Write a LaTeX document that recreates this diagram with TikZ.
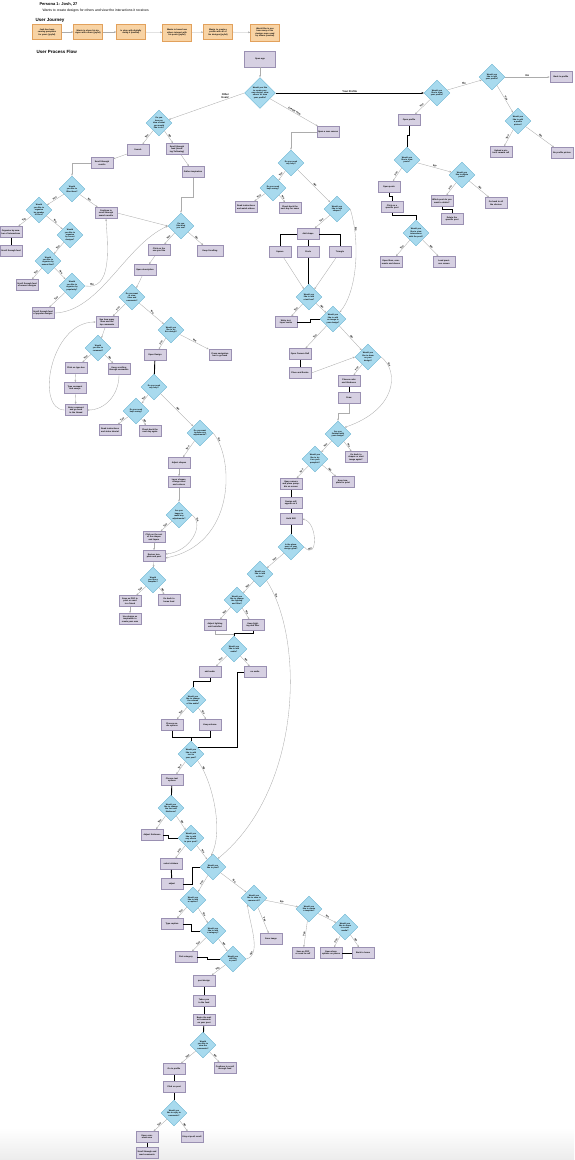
\documentclass[tikz,border=0pt]{standalone}
\usepackage{fontspec}
\setmainfont{Liberation Sans}
\usetikzlibrary{shapes.geometric,arrows.meta}
\definecolor{boxfill}{HTML}{D6D0E2}
\definecolor{boxline}{HTML}{9A90B2}
\definecolor{askfill}{HTML}{A8DAEE}
\definecolor{askline}{HTML}{6AB4D2}
\definecolor{tripfill}{HTML}{F8D3A4}
\definecolor{tripline}{HTML}{E2A15C}
\tikzset{
  wee/.style={font=\fontsize{2.1}{2.5}\selectfont\bfseries},
  act/.style={wee, draw=boxline, fill=boxfill, line width=0.6pt, minimum width=22pt, minimum height=11pt, text width=20pt, inner sep=0.4pt, align=center},
  ask/.style={font=\fontsize{2}{2.4}\selectfont\bfseries, diamond, draw=askline, fill=askfill, line width=0.4pt, minimum width=26pt, minimum height=26pt, text width=14pt, inner sep=0pt, align=center},
  trip/.style={wee, draw=tripline, fill=tripfill, line width=0.4pt, minimum width=29pt, minimum height=15pt, text width=26pt, inner sep=0.4pt, align=center},
  flow/.style={draw=gray!65, line width=0.35pt, -{Stealth[length=2.2pt,width=1.8pt]}},
  bond/.style={draw=black, line width=0.9pt},
  ans/.style={font=\fontsize{2.6}{3}\selectfont\bfseries, sloped, above, inner sep=0.4pt, pos=0.5},
}
\begin{document}
\begin{tikzpicture}[x=1pt,y=-1pt]
\useasboundingbox (0,0) rectangle (574,1160);
\fill[top color=white, bottom color=gray!15] (0,1128) rectangle (574,1160);

% header
\node[anchor=west, font=\fontsize{4}{5}\selectfont\bfseries] (persona) at (36,4) {Persona 1: Josh, 27};
\node[anchor=west, font=\fontsize{3.4}{4}\selectfont] (goal) at (39,11) {Wants to create designs for others and view the interactions it receives};
\node[anchor=west, font=\fontsize{4.5}{5}\selectfont\bfseries] (journey) at (32,20) {User Journey};
\node[anchor=west, font=\fontsize{4.5}{5}\selectfont\bfseries] (process) at (33,52) {User Process Flow};

% user journey
\node[trip] (j1) at (47,32) {Josh has been carving pumpkins for years (joyful)};
\node[trip] (j2) at (88,32) {Wants to share his designs with others (joyful)};
\node[trip] (j3) at (131,32) {Is okay with digitally doing it (neutral)};
\node[trip, minimum height=17pt] (j4) at (177,32.5) {Wants to know how others interact with his posts (joyful)};
\node[trip] (j5) at (218,32) {Wants to create a profile with all of his designs (joyful)};
\node[trip, minimum height=17pt] (j6) at (265,32.5) {Would like to see how many of his designs were used by others (neutral)};
\foreach \a/\b in {j1/j2,j2/j3,j3/j4,j4/j5,j5/j6}
  \draw[flow] (\a) -- (\b);

% start
\node[act, minimum width=31pt, minimum height=16pt] (open) at (260,59) {Open app};
\node[ask, minimum width=31pt, minimum height=31pt, text width=17pt] (start) at (260,93) {Would you like to create your own design, view others' or view your profile?};
\draw[flow] (open) -- (start);

% your profile
\node[ask] (viewprof) at (437,93) {Would you like to view your profile?};
\node[ask] (editprof) at (492,77) {Would you like to edit your profile?};
\node[act] (backprof) at (561,77) {Back to profile};
\node[ask] (editpic) at (518,121) {Would you like to edit a profile picture?};
\node[act] (upload) at (501,152) {Upload a picture/ camera roll};
\node[act] (nopic) at (562,153) {No profile picture};
\node[act] (openprof) at (409,120) {Open profile};
\node[ask] (viewposts) at (407,160) {Would you like to view posts?};
\node[act] (openposts) at (389,187) {Open posts};
\node[ask] (delposts) at (462,175) {Would you like to delete posts?};
\node[act] (whichpost) at (442,201) {Which post do you want to delete?};
\node[act] (goback) at (496,203) {Go back to all the choices};
\node[act] (delpost) at (452,219) {Delete the specific post};
\node[act] (clickpost) at (392,207) {Click on a specific post};
\node[ask] (interact) at (416,233) {Would you like to view interactions with the post?};
\node[act] (openlikes) at (391,262) {Open likes, comments and shares};
\node[act] (backpost) at (444,262) {Load previous screen};

\draw[bond, -{Stealth[length=2.4pt,width=2pt]}] (start.east) -- node[ans]{Your Profile} (viewprof.west);
\draw[flow] (viewprof) -- node[ans]{Yes} (openprof);
\draw[flow] (viewprof) -- node[ans]{No} (editprof);
\draw[flow] (editprof) -- node[ans]{No} (backprof);
\draw[flow] (editprof) -- node[ans]{Yes} (editpic);
\draw[flow] (editpic) -- node[ans]{Yes} (upload);
\draw[flow] (editpic) -- node[ans]{No} (nopic);
\draw[bond] (openprof.south) -- ++(0,10) -| (viewposts.north);
\draw[flow] (viewposts) -- node[ans]{Yes} (openposts);
\draw[flow] (viewposts) -- node[ans]{No} (delposts);
\draw[flow] (delposts) -- node[ans]{Yes} (whichpost);
\draw[flow] (delposts) -- node[ans]{No} (goback);
\draw[bond] (whichpost.south) -- ++(0,3) -| (delpost.north);
\draw[bond] (openposts.south) -- ++(0,4) -| (clickpost.north);
\draw[bond] (clickpost.south) -- ++(0,3) -| (interact.north);
\draw[flow] (interact) -- node[ans]{Yes} (openlikes);
\draw[flow] (interact) -- node[ans]{No} (backpost);

% other users
\node[ask] (idea) at (159,123) {Do you have an idea of what you would like to do?};
\node[act] (search) at (138,150) {Search};
\node[act] (scroll) at (177,149) {Scroll through feed (trending/ following)};
\node[act] (inspire) at (193,172) {Gather inspiration};
\node[act] (results) at (102,163) {Scroll through results};
\node[ask] (filter) at (72,189) {Would you like to filter them?};
\node[ask] (bylikes) at (39,210) {Would you like to organise by number of likes?};
\node[act] (keepsearch) at (106,213) {Continue to scroll through search results};
\node[act] (orglikes) at (11,232) {Organise by number of interactions};
\node[act] (feedlikes) at (11,251) {Scroll through feed};
\node[ask] (byrecent) at (70,235) {Would you like to organise by recent designs?};
\node[ask] (bynewest) at (48,261) {Would you like to organise by newest first?};
\node[act] (feednew) at (27,285) {Scroll through feed of newest designs};
\node[ask] (bypopular) at (72,286) {Would you like to organise by popularity?};
\node[act] (feedpop) at (43,313) {Scroll through feed of popular designs};
\node[ask] (looks) at (181,226) {Do you like what you see?};
\node[act] (clickone) at (159,250) {Click on the one you like};
\node[act, minimum width=26pt] (keepscroll) at (210,251) {Keep Scrolling};
\node[act] (opendesc) at (145,270) {Open description};
\node[ask] (viewlikes) at (132,297) {Do you want to view likes and comments?};
\node[act] (seelikes) at (107,322) {See how many likes and the top comments};
\node[ask] (comment) at (98,348) {Would you like to comment?};
\node[act] (typebox) at (76,368) {Click on type box};
\node[act] (keepcomm) at (119,369) {Keep scrolling through comments};
\node[act] (typecomm) at (75,388) {Type comment and emojis};
\node[act] (sendcomm) at (76,410) {Enter comment and go back to the thread};
\node[ask] (trydesign) at (171,330) {Would you like to try this design?};
\node[act] (opendesign) at (155,355) {Open Design};
\node[act] (navback) at (220,355) {Press navigation bar to go back};
\node[ask] (help2) at (154,387) {Do you need any help?};
\node[ask] (helpsave2) at (136,411) {Do you need help saving?};
\node[act] (tutorial2) at (110,430) {Read instructions and video tutorial};
\node[act] (checkback2) at (150,431) {Check back the next day again};
\node[ask] (adjust) at (200,433) {Do you want to make any adjustments?};
\node[act] (adjshapes) at (179,463) {Adjust shapes};
\node[act] (layer) at (179,482) {Layer shapes, change sizes and colours};
\node[ask] (happy) at (179,515) {Are you happy to make any adjustments?};
\node[act] (clickrest) at (154,537) {Click on the rest of the shapes and layers};
\node[act] (review) at (154,556) {Review template and post};
\node[ask] (template) at (153,580) {Would you like a template?};
\node[act] (savepdf) at (130,601) {Save as PDF to print or send to a friend};
\node[act] (homefeed) at (169,600) {Go back to home feed};
\node[act] (inspo) at (130,619) {Use design as inspiration to create your own};

\draw[flow] (start.west) -- node[pos=0.25, above=1pt, font=\fontsize{2.6}{3}\selectfont\bfseries, align=center, inner sep=0.4pt]{Other\\Users'} (idea);
\draw[flow] (idea) -- node[ans]{Yes} (search);
\draw[flow] (idea) -- node[ans]{No} (scroll);
\draw[flow] (scroll) -- (inspire);
\draw[flow] (search) -- (results);
\draw[flow] (results.west) -| (filter.north);
\draw[flow] (filter) -- node[ans]{Yes} (bylikes);
\draw[flow] (filter) -- node[ans]{No} (keepsearch);
\draw[flow] (bylikes) -- node[ans]{Yes} (orglikes);
\draw[flow] (bylikes) -- node[ans]{No} (byrecent);
\draw[bond] (orglikes) -- (feedlikes);
\draw[flow] (byrecent) -- node[ans]{Yes} (bynewest);
\draw[flow] (bynewest) -- node[ans]{Yes} (feednew);
\draw[flow] (bynewest) -- node[ans]{No} (bypopular);
\draw[flow] (bypopular) -- node[ans]{Yes} (feedpop);
\draw[flow] (bypopular.east) .. controls (112,290) and (108,250) .. node[ans, pos=0.1]{No} (keepsearch.south);
\draw[flow] (feedpop.east) .. controls (100,312) and (125,245) .. (looks.west);
\draw[flow] (keepsearch.east) -- (looks.west);
\draw[flow] (inspire.south) -- ++(0,19) -| (looks.north);
\draw[flow] (looks) -- node[ans]{Yes} (clickone);
\draw[flow] (looks) -- node[ans]{No} (keepscroll);
\draw[flow] (clickone) -- (opendesc);
\draw[flow] (opendesc) -- (viewlikes);
\draw[flow] (viewlikes) -- node[ans]{Yes} (seelikes);
\draw[flow] (viewlikes) -- node[ans]{No} (trydesign);
\draw[flow] (seelikes) -- (comment);
\draw[flow] (comment) -- node[ans]{Yes} (typebox);
\draw[flow] (comment) -- node[ans]{No} (keepcomm);
\draw[flow] (typebox) -- (typecomm);
\draw[flow] (typecomm) -- (sendcomm);
\draw[flow] (keepcomm.south) .. controls (119,395) and (105,410) .. (sendcomm.east);
\draw[flow] (sendcomm.west) .. controls (35,410) and (50,322) .. (seelikes.west);
\draw[flow] (trydesign) -- node[ans]{Yes} (opendesign);
\draw[flow] (trydesign) -- node[ans]{No} (navback);
\draw[bond] (opendesign) -- (help2);
\draw[flow] (help2) -- node[ans]{Yes} (helpsave2);
\draw[flow] (help2) -- node[ans]{No} (adjust);
\draw[flow] (helpsave2) -- node[ans]{Yes} (tutorial2);
\draw[flow] (helpsave2) -- node[ans]{No} (checkback2);
\draw[flow] (adjust) -- node[ans]{Yes} (adjshapes);
\draw[flow] (adjust.east) .. controls (235,460) and (235,545) .. node[ans, pos=0.08]{No} (review.-10);
\draw[flow] (adjshapes) -- (layer);
\draw[flow] (layer) -- (happy);
\draw[flow] (happy) -- node[ans]{Yes} (clickrest);
\draw[flow] (happy.east) .. controls (205,525) and (190,552) .. node[ans, pos=0.15]{No} (review.10);
\draw[flow] (clickrest) -- (review);
\draw[flow] (review) -- (template);
\draw[flow] (template) -- node[ans]{Yes} (savepdf);
\draw[flow] (template) -- node[ans]{No} (homefeed);
\draw[flow] (savepdf) -- (inspo);

% create new
\node[act] (canvas) at (328,132) {Open a new canvas};
\node[ask] (help) at (291,163) {Do you need any help?};
\node[ask] (helpsave) at (273,188) {Do you need help saving?};
\node[act] (tutorial) at (246,207) {Read instructions and watch videos};
\node[act] (checkback) at (290,208) {Check back the next day for news};
\node[ask] (addshape) at (337,209) {Would you like to add shapes?};
\node[act] (shape) at (308,234) {Add shape};
\node[act] (square) at (280,252) {Square};
\node[act] (circle) at (308,252) {Circle};
\node[act] (triangle) at (340,252) {Triangle};
\node[ask] (textbox) at (309,297) {Would you like to add a text box?};
\node[act] (writetext) at (286,322) {Write text, layer/ resize};
\node[ask] (addimage) at (333,319) {Would you like to add an image to your design?};
\node[act] (cameraroll) at (300,354) {Open Camera Roll};
\node[act] (resize) at (300,373) {Place and Resize};
\node[ask] (draw) at (368,357) {Would you like to draw on your design?};
\node[act] (colour) at (349,381) {Choose color and thickness};
\node[act] (drawit) at (349,398) {Draw};
\node[ask] (finished) at (338,434) {Are you finished with your design?};
\node[act] (startagain) at (356,457) {Go back to shapes or start image again?};
\node[ask] (trypump) at (315,459) {Would you like to try it on your pumpkin?};
\node[act] (camera) at (291,484) {Open camera and place pumpkin on screen};
\node[act] (savetpl) at (343,482) {Save template for print};
\node[act] (appear) at (291,503) {Design will appear on it};
\node[act] (hold) at (291,519) {Hold Still};
\node[ask] (placement) at (291,547) {Is the placement of your design good?};
\node[ask] (addfilter) at (260,574) {Would you like to add a filter?};
\node[ask] (lighting) at (237,600) {Would you like to change the lighting and filter?};
\node[act] (adjlight) at (215,625) {Adjust lighting until satisfied};
\node[act] (keeplight) at (253,625) {Keep lighting and filter};
\node[ask] (audio) at (234,649) {Would you like to add audio?};
\node[act] (addaudio) at (210,672) {add audio};
\node[act] (noaudio) at (255,672) {no audio};
\node[ask] (volume) at (193,700) {Would you like to change the volume of the audio?};
\node[act] (audioopts) at (172,725) {Choose audio options};
\node[act] (keepvol) at (210,725) {Keep volume};
\node[ask] (addtext) at (191,754) {Would you like to add text to your post?};
\node[act] (textopts) at (172,780) {Choose text options};
\node[ask] (font) at (171,808) {Would you like to change the font and thickness?};
\node[act] (thickness) at (152,835) {Adjust thickness};
\node[ask] (effects) at (191,838) {Would you like to add any effects to your post?};
\node[act] (stickers) at (171,864) {select stickers};
\node[act] (adjustst) at (172,884) {adjust};
\node[ask] (post) at (213,867) {Would you like to post?};
\node[ask] (caption) at (193,900) {Would you like to add a caption?};
\node[act] (typecap) at (172,924) {Type caption};
\node[ask] (category) at (213,931) {Would you like to add a category?};
\node[act] (pickcat) at (186,957) {Pick category};
\node[ask] (stillpost) at (233,959) {Would you still like to post?};
\node[act] (postdesign) at (204,981) {post design};
\node[ask] (savecam) at (254,898) {Would you like to save to camera roll?};
\node[act] (saveimg) at (271,939) {Save image};
\node[ask] (createtpl) at (309,909) {Would you like to create a template?};
\node[act] (sendself) at (303,953) {Save as PDF or send to self};
\node[ask] (share) at (345,927) {Would you like to share to social media?};
\node[act] (shareopts) at (331,953) {Open share options on phone};
\node[act] (backhome) at (363,953) {Back to home};
\node[act] (feed) at (204,1001) {Takes you to the feed};
\node[act] (wait) at (204,1020) {Begin the wait on comments on your post};
\node[ask] (viewcomm) at (203,1045) {Would you like to view the comments?};
\node[act] (gotoprof) at (174,1069) {Go to profile};
\node[act] (contfeed) at (225,1068) {Continue to scroll through feed};
\node[act] (clickon) at (174,1087) {Click on post};
\node[ask] (reply) at (174,1113) {Would you like to reply to comments?};
\node[act] (opencomm) at (147,1137) {Open comment area};
\node[act] (staypost) at (192,1137) {Stay at post/ scroll};
\node[act] (readcomm) at (147,1153) {Scroll through and read comments};

\draw[flow] (start) -- node[ans]{Create new} (canvas);
\draw[flow] (canvas.west) -| (help.north);
\draw[flow] (help) -- node[ans]{Yes} (helpsave);
\draw[flow] (help) -- node[ans]{No} (addshape);
\draw[flow] (helpsave) -- node[ans]{Yes} (tutorial);
\draw[flow] (helpsave) -- node[ans]{No} (checkback);
\draw[flow] (addshape) -- node[ans]{Yes} (shape);
\draw[flow] (addshape.east) .. controls (360,240) and (358,290) .. node[ans, pos=0.2]{No} (addimage.45);
\draw[bond] (shape.west) -| (square.north);
\draw[bond] (shape) -- (circle);
\draw[bond] (shape.east) -| (triangle.north);
\draw[flow] (square) -- (textbox);
\draw[flow] (triangle) -- (textbox);
\draw[bond] (circle.south) -- (circle.south |- textbox.north);
\draw[flow] (textbox) -- node[ans]{Yes} (writetext);
\draw[flow] (textbox) -- node[ans]{No} (addimage);
\draw[bond] (writetext.east) -- ++(13,0) |- (addimage.west);
\draw[flow] (addimage) -- node[ans]{Yes} (cameraroll);
\draw[flow] (addimage) -- node[ans]{No} (draw);
\draw[bond] (cameraroll) -- (resize);
\draw[flow] (resize.east) -- (draw.west);
\draw[flow] (draw) -- node[ans]{Yes} (colour);
\draw[flow] (draw.east) .. controls (400,372) and (396,410) .. node[ans, pos=0.15]{No} (finished.45);
\draw[bond] (colour) -- (drawit);
\draw[flow] (drawit.south) -- ++(0,9) -| (finished.north);
\draw[flow] (finished) -- node[ans]{Yes} (trypump);
\draw[flow] (finished) -- node[ans]{No} (startagain);
\draw[flow] (trypump) -- node[ans]{Yes} (camera);
\draw[flow] (trypump) -- node[ans]{No} (savetpl);
\draw[bond] (camera) -- (appear);
\draw[bond] (appear) -- (hold);
\draw[bond] (hold) -- (placement);
\draw[flow] (placement.east) .. controls (318,562) and (318,522) .. node[ans, pos=0.2]{No} (hold.east);
\draw[flow] (placement) -- node[ans]{Yes} (addfilter);
\draw[flow] (addfilter) -- node[ans]{Yes} (lighting);
\draw[flow] (addfilter.south east) .. controls (305,640) and (302,790) .. node[ans, pos=0.08]{No} (post.60);
\draw[flow] (lighting) -- node[ans]{Yes} (adjlight);
\draw[flow] (lighting) -- node[ans]{No} (keeplight);
\draw[flow] (adjlight.south) -- ++(0,3) -| (audio.north);
\draw[bond] (keeplight.south) -- ++(0,3) -| (audio.north);
\draw[flow] (audio) -- node[ans]{Yes} (addaudio);
\draw[flow] (audio) -- node[ans]{No} (noaudio);
\draw[bond] (addaudio.south) -- ++(0,4) -| (volume.north);
\draw[flow] (volume) -- node[ans]{Yes} (audioopts);
\draw[flow] (volume) -- node[ans]{No} (keepvol);
\coordinate (joinvol) at (191,737);
\draw[bond] (audioopts.south) |- (joinvol) -| (keepvol.south);
\draw[bond] (joinvol) -- (addtext.north);
\draw[bond] (noaudio.west) -- ++(-6,0) |- (addtext.north east);
\draw[flow] (addtext) -- node[ans]{Yes} (textopts);
\draw[flow] (addtext.south east) .. controls (212,780) and (224,830) .. node[ans, pos=0.12]{No} (post.100);
\draw[bond] (textopts) -- (font);
\draw[flow] (font) -- node[ans]{Yes} (thickness);
\draw[flow] (font) -- node[ans]{No} (effects);
\draw[bond] (thickness.east) -- ++(5,0) |- (effects.west);
\draw[flow] (effects) -- node[ans]{Yes} (stickers);
\draw[flow] (effects) -- node[ans]{No} (post);
\draw[bond] (stickers) -- (adjustst);
\draw[bond] (adjustst.east) -- ++(9,0) |- (post.west);
\draw[flow] (post) -- node[ans]{Yes} (caption);
\draw[flow] (post) -- node[ans]{No} (savecam);
\draw[flow] (caption) -- node[ans]{Yes} (typecap);
\draw[flow] (caption) -- node[ans]{No} (category);
\draw[bond] (typecap.east) -- ++(8,0) |- (category.west);
\draw[flow] (category) -- node[ans]{Yes} (pickcat);
\draw[flow] (category) -- node[ans]{No} (stillpost);
\draw[bond] (pickcat.east) -- ++(10,0) |- (stillpost.west);
\draw[flow] (stillpost) -- node[ans]{Yes} (postdesign);
\draw[flow] (stillpost.east) .. controls (262,955) and (250,925) .. node[ans, pos=0.2]{No} (savecam.south west);
\draw[flow] (savecam) -- node[ans]{Yes} (saveimg);
\draw[flow] (savecam) -- node[ans]{No} (createtpl);
\draw[flow] (createtpl) -- node[ans]{Yes} (sendself);
\draw[flow] (createtpl) -- node[ans]{No} (share);
\draw[flow] (share) -- node[ans]{Yes} (shareopts);
\draw[flow] (share) -- node[ans]{No} (backhome);
\draw[bond] (shareopts) -- (backhome);
\draw[bond] (postdesign) -- (feed);
\draw[bond] (feed) -- (wait);
\draw[bond] (wait) -- (viewcomm);
\draw[flow] (viewcomm) -- node[ans]{Yes} (gotoprof);
\draw[flow] (viewcomm) -- node[ans]{No} (contfeed);
\draw[bond] (gotoprof) -- (clickon);
\draw[bond] (clickon) -- (reply);
\draw[flow] (reply) -- node[ans]{Yes} (opencomm);
\draw[flow] (reply) -- node[ans]{No} (staypost);
\draw[bond] (opencomm) -- (readcomm);
\end{tikzpicture}
\end{document}
